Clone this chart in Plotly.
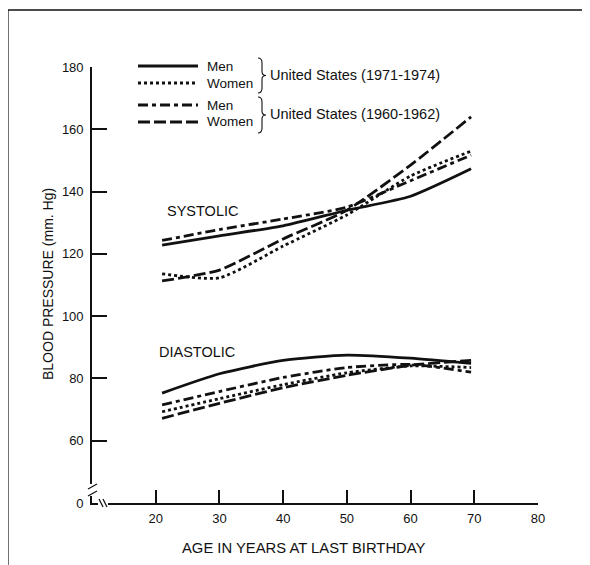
import plotly.graph_objects as go

# ---- data ----
ages = [21, 30, 40, 50, 60, 69.5]

sys_men_7174 = [122.8, 125.8, 129.0, 134.0, 138.5, 147.3]
sys_women_7174 = [113.6, 112.3, 122.5, 132.5, 145.0, 153.0]
sys_men_6062 = [124.3, 127.8, 131.2, 135.0, 143.5, 151.7]
sys_women_6062 = [111.3, 114.8, 124.8, 134.0, 148.5, 164.0]

dia_men_7174 = [75.3, 81.5, 85.8, 87.5, 86.5, 84.8]
dia_women_7174 = [69.3, 73.5, 78.0, 81.8, 84.0, 83.5]
dia_men_6062 = [71.5, 75.8, 80.3, 83.5, 84.5, 82.0]
dia_women_6062 = [67.2, 72.0, 77.0, 81.0, 84.2, 85.8]

series_names = ["Men", "Women", "Men", "Women"]
group_labels = ["United States (1971-1974)", "United States (1960-1962)"]

y_tickvals = [40, 60, 80, 100, 120, 140, 160, 180]
y_ticktext = ["0", "60", "80", "100", "120", "140", "160", "180"]
x_tickvals = [20, 30, 40, 50, 60, 70, 80]

FONT = "Liberation Sans, Arial, Helvetica, sans-serif"
INK = "#111111"

# ---- layout geometry ----
OFF = 8  # page body margin of the html page
W, H = 582, 557
# plot area in screen pixels
SL, SR, ST, SB = 92, 538, 67, 503
L, T = SL - OFF, ST - OFF
R, B = W - (SR - OFF), H - (SB - OFF)
PW, PH = SR - SL, SB - ST


def px(x):
    return (x - SL) / PW


def py(y):
    return (SB - y) / PH


dashes = ["solid", "dot", "10px,4px,4px,4px", "12px,4px"]
LW = 2.8

fig = go.Figure()
sys_sets = [sys_men_7174, sys_women_7174, sys_men_6062, sys_women_6062]
dia_sets = [dia_men_7174, dia_women_7174, dia_men_6062, dia_women_6062]
for name, dash, s, d in zip(series_names, dashes, sys_sets, dia_sets):
    fig.add_trace(go.Scatter(
        x=ages + [None] + ages,
        y=s + [None] + d,
        mode="lines",
        name=name,
        showlegend=False,
        line=dict(color=INK, width=LW, dash=dash, shape="spline", smoothing=0.6),
        connectgaps=False,
        hoverinfo="skip",
    ))

fig.update_xaxes(
    range=[10, 80], tickvals=x_tickvals, ticks="inside", ticklen=13, tickwidth=1.5,
    tickcolor=INK, showline=True, linecolor=INK, linewidth=1.6, showgrid=False,
    zeroline=False, tickfont=dict(family=FONT, size=13, color=INK),
    ticklabelstandoff=3,
)
fig.update_yaxes(
    range=[40, 180], tickvals=y_tickvals, ticktext=y_ticktext, ticks="inside",
    ticklen=15, tickwidth=1.5, tickcolor=INK, showline=True, linecolor=INK,
    linewidth=1.6, showgrid=False, zeroline=False,
    tickfont=dict(family=FONT, size=13, color=INK), ticklabelstandoff=4,
)

annotations = [
    dict(text="SYSTOLIC", x=px(165), y=py(211), xanchor="left", yanchor="middle", size=14.5),
    dict(text="DIASTOLIC", x=px(157), y=py(352), xanchor="left", yanchor="middle", size=14.5),
    dict(text="AGE IN YEARS AT LAST BIRTHDAY", x=px(304), y=py(548), xanchor="center", yanchor="middle", size=14.8),
    dict(text="BLOOD PRESSURE (mm. Hg)", x=px(48), y=py(284), xanchor="center", yanchor="middle", size=14, textangle=-90),
    dict(text=group_labels[0], x=px(268), y=py(75), xanchor="left", yanchor="middle", size=14.5),
    dict(text=group_labels[1], x=px(268), y=py(114), xanchor="left", yanchor="middle", size=14.5),
]
# legend text
legend_rows = [66, 83, 105, 122]
for name, yy in zip(series_names, legend_rows):
    annotations.append(dict(text=name, x=px(205), y=py(yy), xanchor="left", yanchor="middle", size=13.5))

for a in annotations:
    size = a.pop("size", 12)
    fig.add_annotation(xref="paper", yref="paper", showarrow=False,
                       font=dict(family=FONT, size=size, color=INK), **a)

shapes = [
    # page frame (top and left)
    dict(type="line", x0=px(8), x1=px(590), y0=py(10), y1=py(10), line=dict(color=INK, width=1.5)),
    dict(type="line", x0=px(8), x1=px(8), y0=py(10), y1=py(565), line=dict(color=INK, width=1.2)),
    # y-axis break
    dict(type="rect", x0=px(89), x1=px(97), y0=py(496), y1=py(484), line=dict(width=0), fillcolor="white"),
    dict(type="line", x0=px(88), x1=px(97), y0=py(489), y1=py(484), line=dict(color=INK, width=1.2)),
    dict(type="line", x0=px(88), x1=px(97), y0=py(496), y1=py(491), line=dict(color=INK, width=1.2)),
    # x-axis break
    dict(type="rect", x0=px(98), x1=px(108), y0=py(507), y1=py(499), line=dict(width=0), fillcolor="white"),
    dict(type="line", x0=px(99), x1=px(103), y0=py(499), y1=py(507), line=dict(color=INK, width=1.2)),
    dict(type="line", x0=px(103), x1=px(107), y0=py(499), y1=py(507), line=dict(color=INK, width=1.2)),
]
# legend sample lines
for dash, yy in zip(dashes, legend_rows):
    shapes.append(dict(type="line", x0=px(138), x1=px(198), y0=py(yy), y1=py(yy),
                       line=dict(color=INK, width=LW, dash=dash)))


def brace(x0, y0, y1, depth=4, tip=4):
    ym = (y0 + y1) / 2
    xm = x0 + depth
    pts = [
        f"M {px(x0)},{py(y0)}",
        f"Q {px(xm)},{py(y0)} {px(xm)},{py(y0 + 5)}",
        f"L {px(xm)},{py(ym - 4)}",
        f"Q {px(xm)},{py(ym)} {px(xm + tip)},{py(ym)}",
        f"Q {px(xm)},{py(ym)} {px(xm)},{py(ym + 4)}",
        f"L {px(xm)},{py(y1 - 5)}",
        f"Q {px(xm)},{py(y1)} {px(x0)},{py(y1)}",
    ]
    return " ".join(pts)


shapes.append(dict(type="path", path=brace(258, 58, 93), line=dict(color=INK, width=1.1)))
shapes.append(dict(type="path", path=brace(258, 97, 133), line=dict(color=INK, width=1.1)))

for s in shapes:
    fig.add_shape(xref="paper", yref="paper", layer="above", **s)

fig.update_layout(
    width=W, height=H,
    margin=dict(l=L, r=R, t=T, b=B),
    paper_bgcolor="white", plot_bgcolor="white",
    font=dict(family=FONT, size=12, color=INK),
    showlegend=False,
)

fig.write_html("out.html")
